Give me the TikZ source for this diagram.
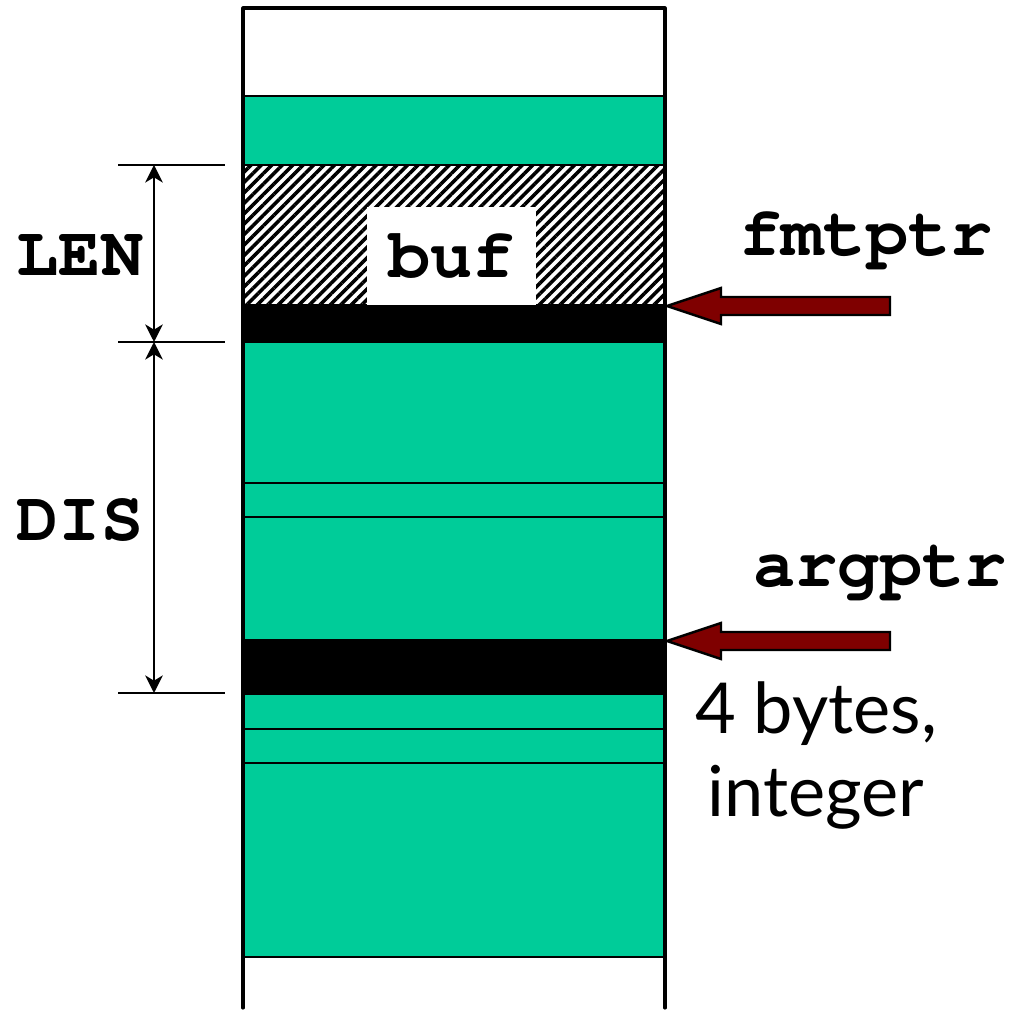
\documentclass[tikz,border=0pt]{standalone}
\usepackage[T1]{fontenc}
\usepackage{fontspec}
\setmainfont{Lato}
\setmonofont{Liberation Mono}
\usepackage{xcolor}
\usetikzlibrary{arrows.meta,patterns.meta}

\definecolor{slotgreen}{HTML}{00CC99}
\definecolor{ptrred}{HTML}{7F0000}
\newcommand{\courb}{\fontencoding{T1}\fontfamily{pcr}\fontseries{b}\selectfont}

\begin{document}
\begin{tikzpicture}[
    slot/.style={fill=slotgreen, draw=black, line width=0.6pt},
    band/.style={fill=black, draw=black, line width=0.6pt},
    ptr/.style={fill=ptrred, draw=black, line width=0.7pt, line join=miter},
    tick/.style={line width=0.6pt},
    dim/.style={line width=0.6pt, {Stealth[length=5pt,width=5pt,inset=1.5pt]}-{Stealth[length=5pt,width=5pt,inset=1.5pt]}},
    code/.style={font=\fontsize{20}{22}\courb}
]
    \useasboundingbox (0,0) rectangle (10.22,-10.11);

    % Stack cells, top to bottom
    \draw[line width=0.6pt, fill=white] (2.43,-0.08) rectangle (6.65,-0.96);
    \draw[slot] (2.43,-0.96) rectangle (6.65,-1.65);
    \fill[pattern={Lines[angle=45,distance=2.1pt,line width=1pt]}] (2.43,-1.65) rectangle (6.65,-3.05);
    \draw[line width=0.6pt] (2.43,-1.65) -- (6.65,-1.65);
    \draw[band] (2.43,-3.05) rectangle (6.65,-3.42);
    \draw[slot] (2.43,-3.42) rectangle (6.65,-4.83);
    \draw[slot] (2.43,-4.83) rectangle (6.65,-5.17);
    \draw[slot] (2.43,-5.17) rectangle (6.65,-6.40);
    \draw[band] (2.43,-6.40) rectangle (6.65,-6.94);
    \draw[slot] (2.43,-6.94) rectangle (6.65,-7.29);
    \draw[slot] (2.43,-7.29) rectangle (6.65,-7.63);
    \draw[slot] (2.43,-7.63) rectangle (6.65,-9.57);

    % Outer walls
    \draw[line width=0.9pt, line cap=round, line join=round]
        (2.43,-10.08) -- (2.43,-0.08) -- (6.65,-0.08) -- (6.65,-10.08);

    % Buffer label
    \node[code, fill=white, minimum width=1.69cm, minimum height=0.98cm, inner sep=0pt]
        (buf) at (4.515,-2.56) {buf};

    % Dimension marks
    \coordinate (lentop) at (1.54,-1.65);
    \coordinate (lenbot) at (1.54,-3.42);
    \coordinate (disbot) at (1.54,-6.93);
    \draw[tick] (1.18,-1.65) -- (2.25,-1.65);
    \draw[tick] (1.18,-3.42) -- (2.25,-3.42);
    \draw[tick] (1.18,-6.93) -- (2.25,-6.93);
    \draw[dim] (lentop) -- (lenbot);
    \draw[dim] (lenbot) -- (disbot);
    \node[code] (len) at (0.80,-2.57) {LEN};
    \node[code] (dis) at (0.80,-5.20) {DIS};

    % Pointers
    \coordinate (fmttip) at (6.67,-3.06);
    \coordinate (argtip) at (6.67,-6.41);
    \draw[ptr] (fmttip) -- ++(0.54,0.18) -- ++(0,-0.09) -- ++(1.69,0)
        -- ++(0,-0.18) -- ++(-1.69,0) -- ++(0,-0.09) -- cycle;
    \draw[ptr] (argtip) -- ++(0.54,0.18) -- ++(0,-0.09) -- ++(1.69,0)
        -- ++(0,-0.18) -- ++(-1.69,0) -- ++(0,-0.09) -- cycle;
    \node[code] (fmtptr) at (8.66,-2.38) {fmtptr};
    \node[code] (argptr) at (8.80,-5.72) {argptr};

    % Size note
    \node[align=center, font=\fontsize{20}{23.6}\selectfont] (note) at (8.16,-7.56)
        {4 bytes,\\integer};
\end{tikzpicture}
\end{document}
